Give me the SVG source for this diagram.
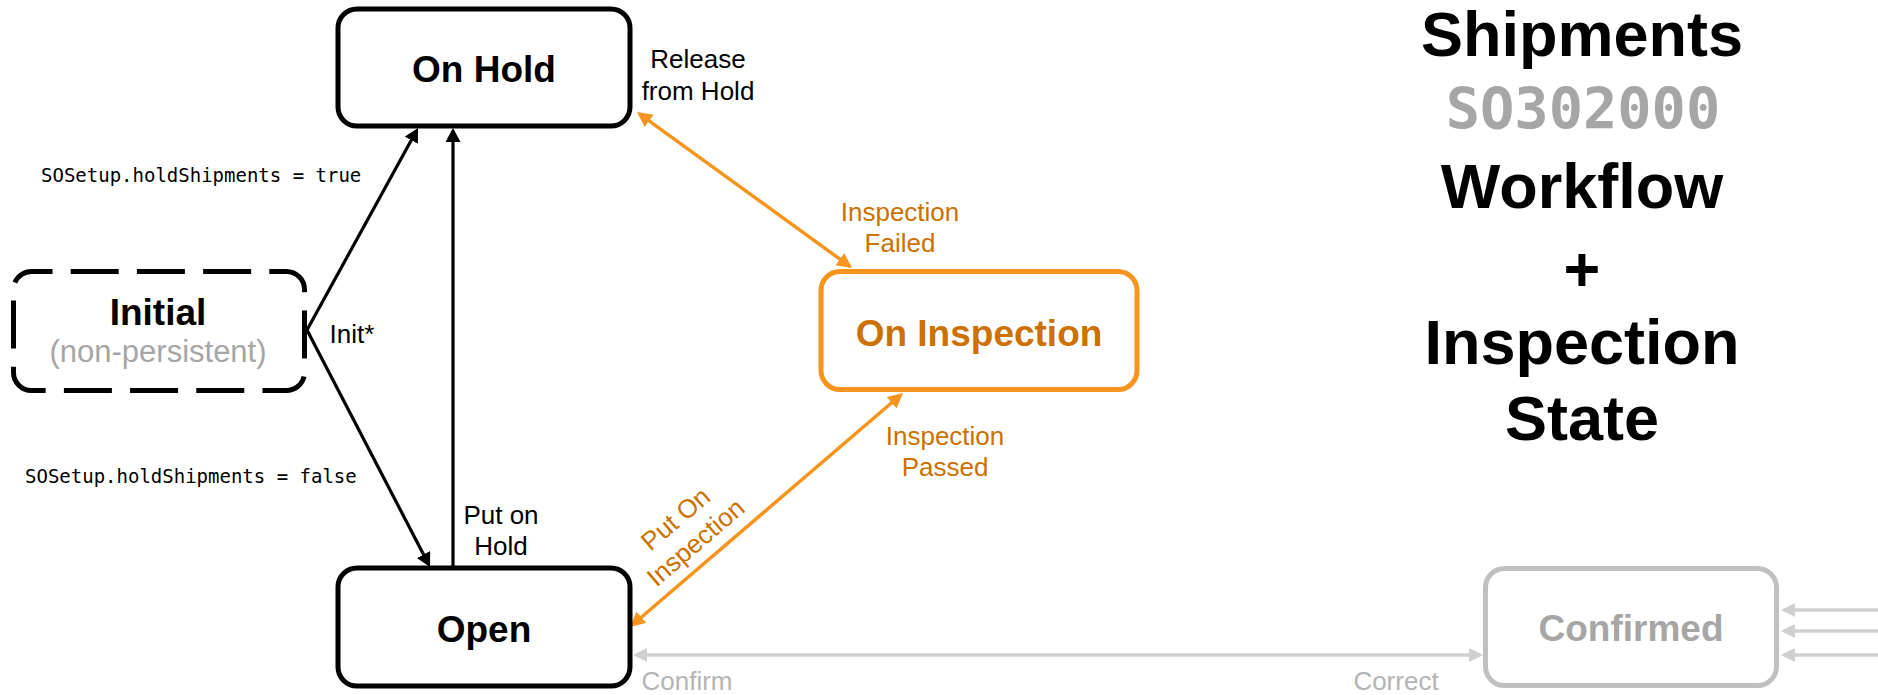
<svg xmlns="http://www.w3.org/2000/svg" width="1878" height="695" viewBox="0 0 1878 695">
<style>
.box{fill:#fff;stroke:#000;stroke-width:5}
.obox{fill:#fff;stroke:#f7941d;stroke-width:5}
.gbox{fill:#fff;stroke:#c0c0c0;stroke-width:5}
.title{font-family:"Liberation Sans",Arial,sans-serif;font-weight:bold;font-size:37px;text-anchor:middle}
.lbl{font-family:"Liberation Sans",Arial,sans-serif;font-size:26px;text-anchor:middle}
.mono{font-family:"DejaVu Sans Mono","Liberation Mono",monospace;font-size:19px}
.big{font-family:"Liberation Sans",Arial,sans-serif;font-weight:bold;font-size:63px;text-anchor:middle}
.blk{fill:none;stroke:#000;stroke-width:3.2}
.org{fill:none;stroke:#f7941d;stroke-width:3.5}
.gry{fill:none;stroke:#d0d0d0;stroke-width:3.5}
</style>
<defs>
<marker id="ab" markerUnits="userSpaceOnUse" markerWidth="16" markerHeight="16" refX="11" refY="7.5" orient="auto-start-reverse" viewBox="0 0 16 16">
<path d="M0,0 L14,7.5 L0,15 z" fill="#000"/>
</marker>
<marker id="ao" markerUnits="userSpaceOnUse" markerWidth="18" markerHeight="18" refX="12" refY="7.5" orient="auto-start-reverse" viewBox="0 0 18 18">
<path d="M0,0 L15,7.5 L0,15 z" fill="#f7941d"/>
</marker>
<marker id="ag" markerUnits="userSpaceOnUse" markerWidth="16" markerHeight="16" refX="11" refY="7" orient="auto-start-reverse" viewBox="0 0 16 16">
<path d="M0,0 L14,7 L0,14 z" fill="#d0d0d0"/>
</marker>
</defs>

<g id="connectors">
<line class="blk" x1="307" y1="330" x2="416.6" y2="130.6" marker-end="url(#ab)"/>
<line class="blk" x1="307" y1="330" x2="428.6" y2="564.3" marker-end="url(#ab)"/>
<line class="blk" x1="453" y1="566" x2="453" y2="131" marker-end="url(#ab)"/>
<line class="org" x1="639.4" y1="113.8" x2="849.6" y2="266.2" marker-start="url(#ao)" marker-end="url(#ao)"/>
<line class="org" x1="632.3" y1="625" x2="900.7" y2="395" marker-start="url(#ao)" marker-end="url(#ao)"/>
<line class="gry" x1="636" y1="655" x2="1480" y2="655" marker-start="url(#ag)" marker-end="url(#ag)"/>
<line class="gry" x1="1878" y1="610" x2="1784" y2="610" marker-end="url(#ag)"/>
<line class="gry" x1="1878" y1="631" x2="1784" y2="631" marker-end="url(#ag)"/>
<line class="gry" x1="1878" y1="655" x2="1784" y2="655" marker-end="url(#ag)"/>
<text class="mono" x="41" y="182" fill="#000">SOSetup.holdShipments = true</text>
<text class="mono" x="25" y="483" fill="#000">SOSetup.holdShipments = false</text>
<text class="lbl" x="352" y="343" fill="#000">Init*</text>
<text class="lbl" x="501" y="524" fill="#000">Put on</text>
<text class="lbl" x="501" y="555" fill="#000">Hold</text>
<text class="lbl" x="698" y="68" fill="#000">Release</text>
<text class="lbl" x="698" y="100" fill="#000">from Hold</text>
<text class="lbl" x="900" y="221" fill="#cc7000">Inspection</text>
<text class="lbl" x="900" y="252" fill="#cc7000">Failed</text>
<text class="lbl" x="945" y="445" fill="#cc7000">Inspection</text>
<text class="lbl" x="945" y="476" fill="#cc7000">Passed</text>
<g transform="translate(685.5,530.5) rotate(-40.6)">
<text class="lbl" x="0" y="-6.5" fill="#cc7000">Put On</text>
<text class="lbl" x="0" y="24.5" fill="#cc7000">Inspection</text>
</g>
<text class="lbl" x="687" y="690" fill="#b4b4b4">Confirm</text>
<text class="lbl" x="1396" y="690" fill="#b4b4b4">Correct</text>
</g>

<g id="node-onhold">
<rect class="box" x="338" y="9" width="292" height="117" rx="19"/>
<text class="title" x="484" y="82" fill="#000">On Hold</text>
</g>

<g id="node-initial">
<rect x="13.5" y="271.5" width="291" height="119" rx="18" fill="#fff" stroke="#000" stroke-width="5" stroke-dasharray="48 18.2" stroke-dashoffset="27"/>
<text class="title" x="158" y="325" fill="#000">Initial</text>
<text class="lbl" x="158" y="362" fill="#a6a6a6" style="font-size:31px">(non-persistent)</text>
</g>

<g id="node-open">
<rect class="box" x="338" y="568" width="292" height="118" rx="19"/>
<text class="title" x="484" y="642" fill="#000">Open</text>
</g>

<g id="node-oninspection">
<rect class="obox" x="821" y="271.5" width="316" height="118" rx="19"/>
<text class="title" x="979" y="346" fill="#cc7000">On Inspection</text>
</g>

<g id="node-confirmed">
<rect class="gbox" x="1485.5" y="568.5" width="291" height="117" rx="19"/>
<text class="title" x="1631" y="641" fill="#a6a6a6">Confirmed</text>
</g>

<g id="title">
<text class="big" x="1582" y="56" fill="#000">Shipments</text>
<text x="1583" y="129" fill="#a6a6a6" style="font-family:'DejaVu Sans Mono','Liberation Mono',monospace;font-weight:bold;font-size:57px;text-anchor:middle">SO302000</text>
<text class="big" x="1582" y="208" fill="#000">Workflow</text>
<text class="big" x="1582" y="291" fill="#000">+</text>
<text class="big" x="1582" y="364" fill="#000">Inspection</text>
<text class="big" x="1582" y="440" fill="#000">State</text>
</g>
</svg>
